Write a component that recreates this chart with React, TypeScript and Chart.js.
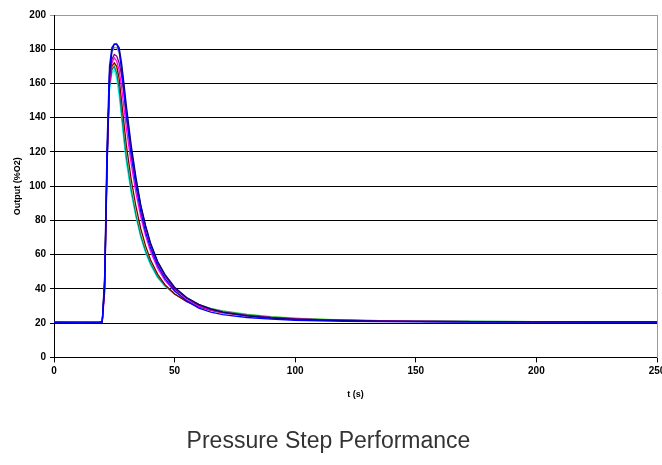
import React, { useEffect, useRef } from "react";
import { Chart, registerables } from "chart.js";

Chart.register(...registerables);

const times = [0, 10, 19, 20, 21, 22, 23, 24, 25, 26, 27, 28, 29, 30, 32, 34, 36, 38, 40, 43, 46, 50, 55, 60, 65, 70, 80, 90, 100, 110, 120, 135, 150, 175, 200, 225, 250];

const blueSeries = [20.4, 20.5, 20.5, 20.7, 48, 125, 170, 181, 183, 183, 179, 168, 155, 141, 118, 100, 85, 73, 64, 53.5, 46, 39, 33, 28.8, 26.5, 25, 23.3, 22.3, 21.7, 21.3, 21.1, 20.9, 20.8, 20.6, 20.7, 20.6, 20.6];
const navySeries = [20.6, 20.5, 20.6, 20.8, 40, 110, 165, 179, 183, 183, 181, 172, 160, 147, 124, 105, 89, 77, 67, 56, 48.5, 41, 35, 31, 28.3, 26.5, 24.2, 23, 22.2, 21.8, 21.5, 21.2, 21, 20.9, 20.8, 20.7, 20.7];
const graySeries = [20.5, 20.5, 20.5, 20.8, 42, 114, 166, 178, 181, 181, 178, 170, 158, 145, 122, 104, 88, 76, 66, 55.5, 48, 40.5, 34.8, 31, 28.4, 26.7, 24.4, 23.1, 22.3, 21.9, 21.6, 21.3, 21.1, 20.9, 20.8, 20.7, 20.7];
const purpleSeries = [20.5, 20.5, 20.6, 20.9, 42, 115, 162, 174, 177, 176, 172, 165, 154, 142, 121, 103, 88, 76, 66, 55, 47.5, 40, 34.5, 30.5, 28, 26.5, 24.5, 23.3, 22.5, 22, 21.7, 21.3, 21.1, 20.9, 20.8, 20.7, 20.7];
const magentaSeries = [20.5, 20.4, 20.5, 20.8, 38, 112, 160, 172, 175, 173, 168, 158, 146, 134, 113, 96, 82, 71, 62, 52, 45, 38.5, 33.5, 30, 27.8, 26.3, 24.4, 23.2, 22.4, 22, 21.6, 21.3, 21.1, 20.9, 20.8, 20.7, 20.7];
const darkRedSeries = [20.5, 20.5, 20.6, 20.8, 45, 118, 160, 170, 172, 170, 163, 150, 137, 124, 104, 88, 75, 65, 57, 48.5, 42.5, 37, 32.5, 29.5, 27.5, 26, 24.2, 23, 22.3, 21.9, 21.6, 21.3, 21.1, 20.9, 20.8, 20.7, 20.7];
const tealSeries = [20.5, 20.5, 20.5, 20.7, 42, 115, 158, 168, 170, 166, 157, 143, 129, 117, 98, 83, 71, 62, 55, 47, 42, 37, 33, 30.5, 28.5, 27, 25, 23.7, 22.8, 22.2, 21.8, 21.4, 21.2, 21, 20.9, 20.8, 20.7];
const cyanSeries = [20.5, 20.5, 20.5, 20.7, 40, 112, 156, 166, 168, 163, 153, 140, 126, 114, 96, 82, 70, 61, 54, 46.5, 41.5, 37, 33.2, 30.7, 28.7, 27.2, 25.2, 23.8, 22.9, 22.3, 21.9, 21.5, 21.2, 21, 20.9, 20.8, 20.7];
const yellowSeries = [20.5, 20.5, 20.5, 20.7, 44, 118, 160, 170, 172, 168, 159, 145, 131, 118, 99, 84, 72, 63, 55.5, 47.5, 42, 37, 33, 30.5, 28.6, 27.1, 25.1, 23.8, 22.9, 22.3, 21.9, 21.5, 21.2, 21, 20.9, 20.8, 20.7];

const seriesList = [
  { name: "Run 1", values: blueSeries, color: "#0000FF" },
  { name: "Run 2", values: navySeries, color: "#000080" },
  { name: "Run 3", values: purpleSeries, color: "#800080" },
  { name: "Run 4", values: magentaSeries, color: "#FF00FF" },
  { name: "Run 5", values: graySeries, color: "#9A9A9A" },
  { name: "Run 6", values: darkRedSeries, color: "#800000" },
  { name: "Run 7", values: tealSeries, color: "#008080" },
  { name: "Run 8", values: yellowSeries, color: "#FFFF00" },
  { name: "Run 9", values: cyanSeries, color: "#00FFFF" },
];

const xTicks = [0, 50, 100, 150, 200, 250];
const yTicks = [0, 20, 40, 60, 80, 100, 120, 140, 160, 180, 200];

const FONT = "Arial, 'Liberation Sans', sans-serif";

export default function App() {
  const ref = useRef<HTMLCanvasElement | null>(null);

  useEffect(() => {
    if (!ref.current) return;
    const chart = new Chart(ref.current, {
      type: "line",
      data: {
        datasets: seriesList.map((s) => ({
          label: s.name,
          data: times.map((t, i) => ({ x: t, y: s.values[i] })),
          borderColor: s.color,
          backgroundColor: s.color,
          borderWidth: 1.3,
          pointRadius: 0,
          tension: 0,
          fill: false,
        })),
      },
      options: {
        animation: false,
        responsive: false,
        devicePixelRatio: 1,
        layout: { padding: { left: 0, right: 5, top: 15, bottom: 0 } },
        plugins: {
          legend: { display: false },
          tooltip: { enabled: false },
          title: {
            display: true,
            position: "bottom",
            text: "Pressure Step Performance",
            color: "#333333",
            font: { family: FONT, size: 23, weight: "normal" },
            padding: { top: 22, bottom: 10 },
          },
        },
        scales: {
          x: {
            type: "linear",
            min: 0,
            max: 250,
            afterBuildTicks: (scale: any) => {
              scale.ticks = xTicks.map((v) => ({ value: v }));
            },
            afterFit: (scale: any) => {
              scale.height = 48;
              scale.paddingRight = 0;
              scale.paddingLeft = 0;
            },
            grid: {
              drawOnChartArea: false,
              drawTicks: true,
              tickLength: 5,
              color: "#000000",
            },
            border: { color: "#000000", width: 1 },
            ticks: {
              color: "#000000",
              font: { family: FONT, size: 10, weight: "bold" },
              padding: 3,
              maxRotation: 0,
              autoSkip: false,
            },
            title: {
              display: true,
              text: "t (s)",
              color: "#000000",
              font: { family: FONT, size: 9, weight: "bold" },
              padding: { top: 0, bottom: 5 },
            },
          },
          y: {
            min: 0,
            max: 200,
            afterBuildTicks: (scale: any) => {
              scale.ticks = yTicks.map((v) => ({ value: v }));
            },
            afterFit: (scale: any) => {
              scale.width = 54;
            },
            grid: {
              color: (ctx: any) => (ctx.tick && ctx.tick.value === 200 ? "#9a9a9a" : "#000000"),
              lineWidth: 1,
              drawTicks: true,
              tickLength: 4,
            },
            border: { color: "#000000", width: 1 },
            ticks: {
              color: "#000000",
              font: { family: FONT, size: 10, weight: "bold" },
              padding: 4,
              autoSkip: false,
            },
            title: {
              display: true,
              text: "Output (%O2)",
              color: "#000000",
              font: { family: FONT, size: 9, weight: "bold" },
              padding: { top: 12, bottom: 0 },
            },
          },
          y2: {
            position: "right",
            min: 0,
            max: 200,
            afterFit: (scale: any) => {
              scale.width = 0;
            },
            grid: { display: false, drawTicks: false },
            ticks: { display: false },
            border: { color: "#9a9a9a", width: 1 },
          },
        },
      },
    });
    return () => chart.destroy();
  }, []);

  return (
    <div style={{ position: "fixed", left: 0, top: 0, width: 662, height: 465, background: "#ffffff" }}>
      <canvas ref={ref} width={662} height={465} style={{ width: 662, height: 465 }} />
    </div>
  );
}
